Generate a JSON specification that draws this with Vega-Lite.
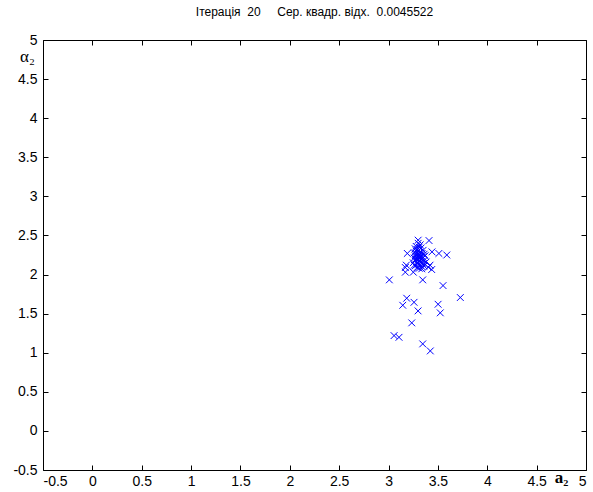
{
  "$schema": "https://vega.github.io/schema/vega-lite/v6.json",
  "width": 543,
  "height": 430,
  "autosize": {"type": "none"},
  "padding": {"left": 43, "top": 40, "right": 7, "bottom": 22},
  "background": "#ffffff",
  "title": {
    "text": "Ітерація\u00a0\u00a020\u00a0\u00a0\u00a0\u00a0\u00a0Сер. квадр. відх.\u00a0\u00a00.0045522",
    "font": "Liberation Sans",
    "fontSize": 12,
    "fontWeight": "normal",
    "color": "#000000",
    "anchor": "middle",
    "offset": 14
  },
  "data": {
    "values": [
      {"x": 3.30, "y": 2.44}, {"x": 3.41, "y": 2.435}, {"x": 3.19, "y": 2.27},
      {"x": 3.44, "y": 2.29}, {"x": 3.51, "y": 2.27}, {"x": 3.59, "y": 2.25},
      {"x": 3.18, "y": 2.12}, {"x": 3.17, "y": 2.09}, {"x": 3.17, "y": 2.03},
      {"x": 3.336, "y": 2.073}, {"x": 3.403, "y": 2.094}, {"x": 3.437, "y": 2.064},
      {"x": 3.251, "y": 2.03}, {"x": 3.42, "y": 2.12},
      {"x": 3.008, "y": 1.932}, {"x": 3.346, "y": 1.932}, {"x": 3.552, "y": 1.859},
      {"x": 3.727, "y": 1.706}, {"x": 3.184, "y": 1.697}, {"x": 3.258, "y": 1.645},
      {"x": 3.144, "y": 1.607}, {"x": 3.299, "y": 1.535}, {"x": 3.502, "y": 1.62},
      {"x": 3.524, "y": 1.51}, {"x": 3.235, "y": 1.382}, {"x": 3.056, "y": 1.219},
      {"x": 3.106, "y": 1.197}, {"x": 3.346, "y": 1.113}, {"x": 3.423, "y": 1.023},
      {"x": 3.30, "y": 2.40}, {"x": 3.32, "y": 2.38}, {"x": 3.28, "y": 2.36},
      {"x": 3.31, "y": 2.35}, {"x": 3.33, "y": 2.34}, {"x": 3.27, "y": 2.33},
      {"x": 3.29, "y": 2.32}, {"x": 3.35, "y": 2.31}, {"x": 3.30, "y": 2.30},
      {"x": 3.32, "y": 2.29}, {"x": 3.26, "y": 2.28}, {"x": 3.28, "y": 2.27},
      {"x": 3.34, "y": 2.27}, {"x": 3.36, "y": 2.26}, {"x": 3.30, "y": 2.26},
      {"x": 3.31, "y": 2.25}, {"x": 3.27, "y": 2.24}, {"x": 3.33, "y": 2.24},
      {"x": 3.29, "y": 2.23}, {"x": 3.35, "y": 2.22}, {"x": 3.31, "y": 2.22},
      {"x": 3.26, "y": 2.21}, {"x": 3.32, "y": 2.21}, {"x": 3.28, "y": 2.20},
      {"x": 3.34, "y": 2.20}, {"x": 3.30, "y": 2.19}, {"x": 3.36, "y": 2.18},
      {"x": 3.27, "y": 2.18}, {"x": 3.31, "y": 2.17}, {"x": 3.33, "y": 2.16},
      {"x": 3.29, "y": 2.15}, {"x": 3.25, "y": 2.15}, {"x": 3.35, "y": 2.14},
      {"x": 3.30, "y": 2.13}, {"x": 3.32, "y": 2.12}, {"x": 3.27, "y": 2.11},
      {"x": 3.34, "y": 2.10}, {"x": 3.29, "y": 2.09}, {"x": 3.31, "y": 2.08},
      {"x": 3.36, "y": 2.11}, {"x": 3.26, "y": 2.12}, {"x": 3.38, "y": 2.16},
      {"x": 3.28, "y": 2.30}, {"x": 3.33, "y": 2.19}, {"x": 3.37, "y": 2.24}
    ]
  },
  "layer": [
    {
      "mark": {
        "type": "point",
        "shape": "M-1,-1L1,1M1,-1L-1,1",
        "size": 46,
        "filled": false,
        "color": "#0000ff",
        "strokeWidth": 1,
        "opacity": 1
      },
      "encoding": {
        "x": {
          "field": "x", "type": "quantitative",
          "scale": {"domain": [-0.5, 5], "nice": false, "zero": false},
          "axis": {
            "orient": "bottom",
            "values": [-0.5, 0, 0.5, 1, 1.5, 2, 2.5, 3, 3.5, 4, 4.5, 5],
            "labelExpr": "'' + datum.value",
            "title": "a₂",
            "titleFont": "Liberation Serif",
            "titleFontSize": 17,
            "titleFontWeight": "bold",
            "titleX": 518,
            "titleY": 7,
            "titleAlign": "center",
            "titleBaseline": "middle",
            "labelPadding": 9
          }
        },
        "y": {
          "field": "y", "type": "quantitative",
          "scale": {"domain": [-0.5, 5], "nice": false, "zero": false},
          "axis": {
            "orient": "left",
            "values": [-0.5, 0, 0.5, 1, 1.5, 2, 2.5, 3, 3.5, 4, 4.5, 5],
            "labelExpr": "'' + datum.value",
            "title": "α₂",
            "titleFont": "Liberation Serif",
            "titleFontSize": 17,
            "titleFontWeight": "normal",
            "titleAngle": 0,
            "titleX": -16,
            "titleY": 16,
            "titleAlign": "center",
            "titleBaseline": "middle",
            "labelPadding": 11
          }
        }
      }
    },
    {
      "mark": {"type": "point", "opacity": 0},
      "encoding": {
        "x": {
          "field": "x", "type": "quantitative",
          "scale": {"domain": [-0.5, 5], "nice": false, "zero": false},
          "axis": {
            "orient": "top",
            "values": [-0.5, 0, 0.5, 1, 1.5, 2, 2.5, 3, 3.5, 4, 4.5, 5],
            "labels": false,
            "title": null
          }
        },
        "y": {
          "field": "y", "type": "quantitative",
          "scale": {"domain": [-0.5, 5], "nice": false, "zero": false},
          "axis": {
            "orient": "right",
            "values": [-0.5, 0, 0.5, 1, 1.5, 2, 2.5, 3, 3.5, 4, 4.5, 5],
            "labels": false,
            "title": null
          }
        }
      }
    }
  ],
  "resolve": {"axis": {"x": "independent", "y": "independent"}},
  "config": {
    "view": {"stroke": null},
    "axis": {
      "grid": false,
      "domainColor": "#000000",
      "domainWidth": 1,
      "tickColor": "#000000",
      "tickSize": -5,
      "tickWidth": 1,
      "labelFont": "Liberation Sans",
      "labelFontSize": 14,
      "labelColor": "#000000",
      "titleColor": "#000000"
    }
  }
}
